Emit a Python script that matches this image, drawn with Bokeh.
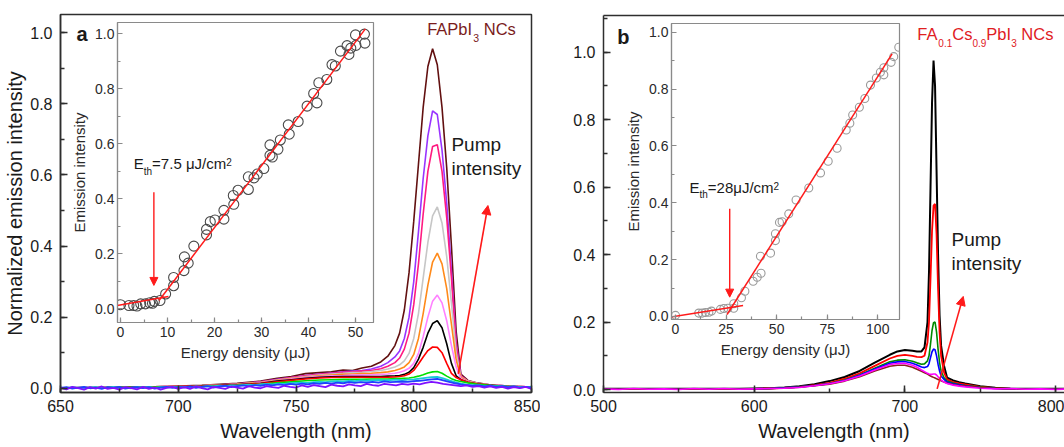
from bokeh.plotting import figure
from bokeh.models import (Range1d, SingleIntervalTicker, PrintfTickFormatter, Label, Arrow,
                          NormalHead, LinearAxis, FixedTicker, GridBox)
from bokeh.embed import file_html
from bokeh.resources import INLINE

FONT = "Liberation Sans"

# ---------------- Panel a: FAPbI3 spectra ----------------
WL_A_FINE = [650.0, 652.5, 655.0, 657.5, 660.0, 662.5, 665.0, 667.5, 670.0, 672.5, 675.0, 677.5,
             680.0, 682.5, 685.0, 687.5, 690.0, 692.5, 695.0, 697.5, 700.0, 702.5, 705.0, 707.5,
             710.0, 712.5, 715.0, 717.5, 720.0, 722.5, 725.0, 727.5, 730.0, 732.5, 735.0, 737.5,
             740.0, 742.5, 745.0, 747.5, 750.0, 752.5, 755.0, 757.5, 760.0, 762.5, 765.0, 767.5,
             770.0, 772.5, 775.0, 777.5, 780.0, 782.5, 785.0, 787.5, 790.0, 792.5, 795.0, 797.5,
             800.0, 802.5, 805.0, 807.5, 810.0, 812.5, 815.0, 817.5, 820.0, 822.5, 825.0, 827.5,
             830.0, 832.5, 835.0, 837.5, 840.0, 842.5, 845.0, 847.5, 850.0]

A_VIOLET_BASE = [0.002, -0.003, 0.004, 0.000, -0.004, 0.003, -0.001, 0.005, -0.002, 0.001, -0.004,
                 0.003, 0.000, -0.003, 0.004, -0.002, 0.002, -0.004, 0.001, 0.004, -0.002,
                 0.003, -0.002, 0.005, 0.000, -0.003, 0.004, 0.001, -0.002, 0.005, 0.002,
                 -0.001, 0.006, 0.002, 0.000, 0.006, 0.003, 0.001, 0.007, 0.004, 0.002,
                 0.008, 0.004, 0.009, 0.006, 0.003, 0.010, 0.007, 0.005, 0.011, 0.008,
                 0.006, 0.012, 0.009, 0.007, 0.012, 0.010, 0.008, 0.012, 0.010, 0.013,
                 0.011, 0.015, 0.018, 0.016, 0.012, 0.010, 0.008, 0.006, 0.008, 0.004,
                 0.006, 0.002, 0.005, 0.001, 0.004, -0.001, 0.003, 0.000, 0.004, -0.002]
A_BLUE_BASE = [0.001, 0.003, -0.001, 0.002, 0.004, 0.000, 0.002, -0.002, 0.003, 0.001, 0.004,
               -0.001, 0.002, 0.003, 0.000, 0.003, -0.001, 0.002, 0.004, 0.001, 0.003,
               0.002, 0.005, 0.001, 0.004, 0.006, 0.002, 0.005, 0.007, 0.003, 0.006,
               0.008, 0.005, 0.009, 0.007, 0.010, 0.008, 0.011, 0.009, 0.012, 0.010,
               0.013, 0.011, 0.014, 0.012, 0.015, 0.013, 0.016, 0.014, 0.017, 0.015,
               0.017, 0.016, 0.018, 0.016, 0.019, 0.017, 0.018, 0.019, 0.018, 0.020,
               0.021, 0.023, 0.025, 0.026, 0.022, 0.018, 0.014, 0.011, 0.009, 0.007,
               0.008, 0.005, 0.007, 0.004, 0.006, 0.003, 0.005, 0.002, 0.004, 0.002]
A_CYAN_BASE = [0.002, 0.000, 0.003, 0.001, -0.001, 0.002, 0.003, 0.000, 0.002, 0.004, 0.001,
               0.002, 0.000, 0.003, 0.002, 0.004, 0.001, 0.003, 0.002, 0.004, 0.002,
               0.004, 0.003, 0.005, 0.004, 0.006, 0.005, 0.007, 0.006, 0.008, 0.007,
               0.009, 0.010, 0.009, 0.011, 0.012, 0.011, 0.013, 0.012, 0.014, 0.015,
               0.016, 0.015, 0.017, 0.018, 0.017, 0.019, 0.020, 0.019, 0.021, 0.020,
               0.022, 0.021, 0.022, 0.023, 0.022, 0.023, 0.024, 0.023, 0.024, 0.025,
               0.027, 0.029, 0.031, 0.032, 0.028, 0.022, 0.017, 0.013, 0.010, 0.008,
               0.009, 0.006, 0.007, 0.005, 0.006, 0.004, 0.005, 0.003, 0.004, 0.003]

WL_A = [650, 670, 690, 710, 725, 735, 742, 748, 754, 760, 765, 770, 774, 778, 782, 786, 789, 792,
        794, 796, 798, 800, 802, 804, 806, 808, 810, 812, 814, 816, 818, 820, 823, 827, 832, 840, 850]

A_MAROON = [0.001, 0.002, 0.004, 0.008, 0.014, 0.020, 0.028, 0.033, 0.041, 0.044, 0.046, 0.051,
            0.050, 0.057, 0.062, 0.074, 0.090, 0.120, 0.155, 0.220, 0.325, 0.470, 0.630, 0.790,
            0.905, 0.955, 0.910, 0.790, 0.620, 0.400, 0.160, 0.040, 0.022, 0.015, 0.010, 0.006, 0.003]
A_PURPLE = [0.001, 0.002, 0.004, 0.007, 0.012, 0.018, 0.025, 0.030, 0.036, 0.040, 0.043, 0.046,
            0.048, 0.050, 0.054, 0.062, 0.072, 0.088, 0.105, 0.140, 0.200, 0.300, 0.440, 0.590,
            0.710, 0.780, 0.770, 0.670, 0.520, 0.330, 0.130, 0.035, 0.020, 0.014, 0.010, 0.006, 0.003]
A_PINK = [0.001, 0.002, 0.004, 0.007, 0.012, 0.018, 0.024, 0.030, 0.035, 0.039, 0.042, 0.045,
          0.046, 0.048, 0.050, 0.055, 0.062, 0.072, 0.085, 0.110, 0.155, 0.235, 0.350, 0.490,
          0.610, 0.680, 0.685, 0.610, 0.480, 0.310, 0.120, 0.035, 0.020, 0.014, 0.010, 0.006, 0.003]
A_GRAY = [0.001, 0.002, 0.004, 0.007, 0.011, 0.017, 0.023, 0.028, 0.033, 0.037, 0.040, 0.042,
          0.044, 0.045, 0.047, 0.050, 0.054, 0.060, 0.066, 0.077, 0.098, 0.140, 0.210, 0.310,
          0.410, 0.485, 0.510, 0.465, 0.370, 0.240, 0.100, 0.032, 0.020, 0.014, 0.010, 0.006, 0.003]
A_ORANGE = [0.001, 0.002, 0.004, 0.007, 0.011, 0.016, 0.022, 0.027, 0.031, 0.035, 0.037, 0.039,
            0.040, 0.041, 0.042, 0.044, 0.046, 0.050, 0.054, 0.060, 0.072, 0.095, 0.140, 0.210,
            0.290, 0.355, 0.380, 0.350, 0.280, 0.180, 0.080, 0.030, 0.019, 0.013, 0.009, 0.006, 0.003]
A_VIOLET = [0.001, 0.002, 0.004, 0.006, 0.010, 0.015, 0.021, 0.026, 0.030, 0.033, 0.035, 0.036,
            0.037, 0.037, 0.038, 0.039, 0.040, 0.042, 0.045, 0.049, 0.056, 0.070, 0.098, 0.145,
            0.200, 0.245, 0.262, 0.240, 0.190, 0.120, 0.060, 0.027, 0.018, 0.012, 0.009, 0.006, 0.003]
A_BLACK = [0.001, 0.002, 0.003, 0.006, 0.010, 0.014, 0.020, 0.024, 0.028, 0.031, 0.032, 0.033,
           0.033, 0.033, 0.033, 0.033, 0.034, 0.035, 0.036, 0.039, 0.045, 0.058, 0.082, 0.115,
           0.155, 0.182, 0.190, 0.170, 0.125, 0.070, 0.035, 0.024, 0.017, 0.012, 0.009, 0.005, 0.003]
A_RED = [0.001, 0.002, 0.003, 0.006, 0.009, 0.013, 0.018, 0.022, 0.026, 0.029, 0.030, 0.031,
         0.031, 0.031, 0.031, 0.031, 0.031, 0.032, 0.033, 0.035, 0.040, 0.050, 0.068, 0.088,
         0.106, 0.116, 0.115, 0.100, 0.070, 0.042, 0.030, 0.024, 0.017, 0.012, 0.008, 0.005, 0.003]
A_GREEN = [0.001, 0.002, 0.003, 0.005, 0.008, 0.011, 0.015, 0.018, 0.021, 0.023, 0.024, 0.025,
           0.025, 0.025, 0.026, 0.026, 0.026, 0.027, 0.027, 0.028, 0.029, 0.031, 0.034, 0.038,
           0.043, 0.046, 0.047, 0.042, 0.034, 0.027, 0.022, 0.019, 0.015, 0.011, 0.008, 0.005, 0.003]

# inset a: emission vs energy density
INSET_A_X = [0.0, 1.8, 2.8, 4.3, 5.3, 6.2, 7.2, 8.4, 9.6, 11.3, 11.3, 13.5, 13.6, 14.4, 15.6, 18.3,
             18.3, 19.1, 20.1, 22.0, 22.0, 24.1, 24.0, 25.0, 27.2, 27.2, 28.4, 29.1, 30.5, 31.8,
             31.8, 32.3, 33.5, 34.0, 35.9, 35.7, 37.8, 39.7, 41.1, 41.8, 42.2, 43.9, 45.0, 45.7,
             46.8, 48.6, 49.0, 50.1, 50.0, 51.9, 52.0, 48.2, 3.5, 6.8]
INSET_A_Y = [0.015, 0.012, 0.012, 0.018, 0.018, 0.022, 0.027, 0.030, 0.054, 0.084, 0.114, 0.139,
             0.189, 0.166, 0.228, 0.269, 0.289, 0.317, 0.323, 0.326, 0.358, 0.380, 0.412, 0.431,
             0.434, 0.480, 0.476, 0.490, 0.510, 0.558, 0.596, 0.552, 0.580, 0.614, 0.635, 0.669,
             0.681, 0.737, 0.783, 0.749, 0.822, 0.834, 0.888, 0.883, 0.937, 0.925, 0.948, 0.958,
             0.996, 0.999, 0.966, 0.957, 0.010, 0.020]
FIT_A_LOW_X = [-0.7, 10.2]
FIT_A_LOW_Y = [0.012, 0.045]
FIT_A_HIGH_X = [8.2, 52.1]
FIT_A_HIGH_Y = [0.030, 1.018]

# ---------------- Panel b: FA0.1Cs0.9PbI3 spectra ----------------
WL_B = [500, 510, 520, 530, 540, 550, 560, 570, 580, 590, 600, 610, 620, 630, 640, 650, 660, 670,
        680, 690, 695, 700, 705, 708, 711, 713, 715, 716, 717, 718, 719, 720, 721, 722, 723, 724,
        726, 728, 732, 736, 740, 750, 760, 770, 780, 790, 800, 810]
B_BLACK = [0.002, 0.002, 0.002, 0.002, 0.002, 0.002, 0.002, 0.002, 0.002, 0.002, 0.003, 0.004,
           0.006, 0.010, 0.016, 0.025, 0.037, 0.055, 0.080, 0.103, 0.113, 0.117, 0.115, 0.113,
           0.113, 0.125, 0.200, 0.350, 0.600, 0.850, 0.975, 0.900, 0.650, 0.400, 0.220, 0.130,
           0.070, 0.035, 0.027, 0.022, 0.018, 0.010, 0.005, 0.003, 0.002, 0.002, 0.002, 0.002]
B_RED = [0.001, 0.001, 0.001, 0.001, 0.001, 0.001, 0.001, 0.001, 0.001, 0.001, 0.002, 0.003,
         0.005, 0.008, 0.013, 0.020, 0.032, 0.048, 0.070, 0.092, 0.100, 0.103, 0.100, 0.097,
         0.096, 0.100, 0.140, 0.200, 0.330, 0.470, 0.545, 0.550, 0.460, 0.300, 0.170, 0.100,
         0.050, 0.030, 0.022, 0.018, 0.015, 0.008, 0.004, 0.002, 0.001, 0.001, 0.001, 0.001]
B_GREEN = [0.001, 0.001, 0.001, 0.001, 0.001, 0.001, 0.001, 0.001, 0.001, 0.001, 0.002, 0.003,
           0.005, 0.008, 0.012, 0.018, 0.028, 0.043, 0.063, 0.082, 0.087, 0.088, 0.084, 0.079,
           0.075, 0.076, 0.085, 0.100, 0.135, 0.175, 0.198, 0.200, 0.170, 0.120, 0.080, 0.055,
           0.035, 0.025, 0.019, 0.015, 0.012, 0.007, 0.004, 0.002, 0.001, 0.001, 0.001, 0.001]
B_BLUE = [0.001, 0.001, 0.001, 0.001, 0.001, 0.001, 0.001, 0.001, 0.001, 0.001, 0.002, 0.003,
          0.005, 0.008, 0.012, 0.017, 0.027, 0.042, 0.061, 0.078, 0.082, 0.083, 0.078, 0.073,
          0.067, 0.065, 0.068, 0.077, 0.095, 0.112, 0.120, 0.118, 0.100, 0.075, 0.055, 0.040,
          0.030, 0.022, 0.017, 0.014, 0.011, 0.006, 0.003, 0.002, 0.001, 0.001, 0.001, 0.001]
B_BROWN = [0.001, 0.001, 0.001, 0.001, 0.001, 0.001, 0.001, 0.001, 0.001, 0.001, 0.002, 0.003,
           0.004, 0.007, 0.011, 0.016, 0.025, 0.038, 0.055, 0.069, 0.072, 0.072, 0.066, 0.060,
           0.054, 0.050, 0.046, 0.043, 0.040, 0.038, 0.036, 0.034, 0.032, 0.030, 0.028, 0.026,
           0.022, 0.019, 0.015, 0.012, 0.010, 0.006, 0.003, 0.002, 0.001, 0.001, 0.001, 0.001]
B_MAGENTA = [0.002, 0.000, 0.003, 0.001, 0.002, 0.000, 0.003, 0.001, 0.003, 0.001, 0.002, 0.003,
             0.004, 0.006, 0.011, 0.017, 0.026, 0.040, 0.058, 0.074, 0.077, 0.078, 0.072, 0.066,
             0.058, 0.053, 0.048, 0.046, 0.045, 0.045, 0.046, 0.046, 0.043, 0.038, 0.033, 0.028,
             0.022, 0.018, 0.013, 0.010, 0.008, 0.004, 0.002, 0.003, 0.001, 0.002, 0.000, 0.002]

INSET_B_X = [0.0, 11.5, 13.2, 14.8, 16.5, 17.8, 22.2, 23.9, 25.9, 28.8, 28.8, 32.6, 34.3, 38.4,
             40.4, 42.3, 42.0, 47.0, 49.4, 49.4, 51.4, 52.7, 56.0, 59.6, 65.9, 71.7, 75.5, 79.9,
             84.4, 86.2, 87.6, 90.9, 93.6, 96.4, 99.3, 101.3, 103.0, 103.0, 106.6, 107.9, 110.4]
INSET_B_Y = [0.004, 0.012, 0.012, 0.014, 0.015, 0.019, 0.025, 0.028, 0.029, 0.029, 0.045, 0.066,
             0.089, 0.124, 0.138, 0.152, 0.212, 0.223, 0.267, 0.291, 0.331, 0.333, 0.361, 0.410,
             0.452, 0.505, 0.546, 0.592, 0.656, 0.680, 0.709, 0.736, 0.767, 0.814, 0.839, 0.859,
             0.875, 0.850, 0.894, 0.914, 0.947]
FIT_B_LOW_X = [-2.5, 33.4]
FIT_B_LOW_Y = [-0.002, 0.039]
FIT_B_HIGH_X = [25.5, 107.1]
FIT_B_HIGH_Y = [0.007, 0.924]

AXIS_DARK = "#2e2e2e"
AXIS_GRAY = "#8a8a8a"


def style_axis(ax, font_size, text_color, line_color, width, tick_in, minor_in):
    ax.major_tick_in = tick_in
    ax.major_tick_out = 0
    ax.minor_tick_in = minor_in
    ax.minor_tick_out = 0
    ax.axis_line_color = line_color
    ax.axis_line_width = width
    ax.major_tick_line_color = line_color
    ax.minor_tick_line_color = line_color
    ax.major_tick_line_width = width
    ax.minor_tick_line_width = width
    ax.major_label_text_font = FONT
    ax.major_label_text_font_size = f"{font_size}px"
    ax.major_label_text_color = text_color
    ax.axis_label_text_font = FONT
    ax.axis_label_text_font_style = "normal"
    ax.axis_label_text_color = text_color


def make_fig(**kw):
    p = figure(output_backend="svg", toolbar_location=None, frame_align=False, **kw)
    p.xgrid.visible = False
    p.ygrid.visible = False
    p.background_fill_color = None
    p.border_fill_color = None
    return p


def add_label(p, x, y, text, size, color, **kw):
    p.add_layout(Label(x=x, y=y, text=text, text_font=FONT, text_font_size=f"{size}px",
                       text_color=color, **kw))


# ---------------- main figure a ----------------
fa = make_fig(width=540, height=447, x_range=Range1d(650, 850), y_range=Range1d(-0.012, 1.0513),
              min_border_left=60, min_border_right=9, min_border_top=14, min_border_bottom=55)
fa.border_fill_color = "white"
fa.background_fill_color = "white"
fa.outline_line_color = AXIS_DARK
fa.outline_line_width = 1.5
fa.xaxis.ticker = SingleIntervalTicker(interval=50, num_minor_ticks=2)
fa.yaxis.ticker = SingleIntervalTicker(interval=0.2, num_minor_ticks=2)
fa.yaxis.formatter = PrintfTickFormatter(format="%.1f")
for ax in (fa.xaxis[0], fa.yaxis[0]):
    style_axis(ax, 16, "#1a1a1a", AXIS_DARK, 1.5, 7, 4)
fa.xaxis.axis_label = "Wavelength (nm)"
fa.yaxis.axis_label = "Normalized emission intensity"
fa.xaxis.axis_label_text_font_size = "20px"
fa.yaxis.axis_label_text_font_size = "20px"
fa.xaxis.major_label_standoff = 7
fa.xaxis.axis_label_standoff = 5
fa.yaxis.major_label_standoff = 8
fa.yaxis.axis_label_standoff = 1

for ys, col in [(A_MAROON, "#621010"), (A_PURPLE, "#9933ff"), (A_PINK, "#ff1a80"),
                (A_GRAY, "#c6c6c6"), (A_ORANGE, "#ff8a1a"), (A_VIOLET, "#ff80ff"),
                (A_BLACK, "#000000"), (A_RED, "#ff0000"), (A_GREEN, "#00e000")]:
    fa.line(WL_A, ys, line_color=col, line_width=1.6)
for ys, col in [(A_CYAN_BASE, "#19c8d8"), (A_BLUE_BASE, "#2040ff"), (A_VIOLET_BASE, "#7f10ff")]:
    fa.line(WL_A_FINE, ys, line_color=col, line_width=1.8)

add_label(fa, 659.2, 0.997, "a", 20, "#1a1a1a", text_font_style="bold",
          text_align="center", text_baseline="middle")
TA = "#7a1c1c"
add_label(fa, 805.7, 0.984, "FAPbI", 16.5, TA)
add_label(fa, 805.7, 0.973, "3", 10.5, TA, x_offset=46.0)
add_label(fa, 805.7, 0.984, "NCs", 16.5, TA, x_offset=56.6)
add_label(fa, 816.0, 0.655, "Pump", 19, "#1a1a1a")
add_label(fa, 816.0, 0.588, "intensity", 19, "#1a1a1a")
fa.add_layout(Arrow(end=NormalHead(size=9, fill_color="#ff1a1a", line_color="#ff1a1a"),
                    x_start=818.9, y_start=0.0405, x_end=831.5, y_end=0.514,
                    line_color="#ff1a1a", line_width=1.6))

# ---------------- inset a ----------------
ia = make_fig(width=378, height=367, x_range=Range1d(-0.64, 53.83), y_range=Range1d(-0.0498, 1.0411),
              min_border_left=117, min_border_right=5, min_border_top=22, min_border_bottom=45)
ia.outline_line_color = AXIS_GRAY
ia.outline_line_width = 1.2
ia.xaxis.ticker = SingleIntervalTicker(interval=10, num_minor_ticks=2)
ia.yaxis.ticker = SingleIntervalTicker(interval=0.2, num_minor_ticks=2)
ia.yaxis.formatter = PrintfTickFormatter(format="%.1f")
for ax in (ia.xaxis[0], ia.yaxis[0]):
    style_axis(ax, 14, "#2a2a2a", AXIS_GRAY, 1.2, 5, 3)
ia.xaxis.axis_label = "Energy density (μJ)"
ia.yaxis.axis_label = "Emission intensity"
ia.xaxis.axis_label_text_font_size = "15px"
ia.yaxis.axis_label_text_font_size = "15px"
ia.xaxis.major_label_standoff = 4
ia.xaxis.axis_label_standoff = 4
ia.yaxis.major_label_standoff = 3
ia.yaxis.axis_label_standoff = 4
ia.scatter(INSET_A_X, INSET_A_Y, size=10, marker="circle", fill_color=None,
           line_color="#4a4a4a", line_width=1.1)
ia.line(FIT_A_LOW_X, FIT_A_LOW_Y, line_color="#ff1a1a", line_width=1.5)
ia.line(FIT_A_HIGH_X, FIT_A_HIGH_Y, line_color="#ff1a1a", line_width=1.5)
add_label(ia, 2.83, 0.496, "E", 15, "#1a1a1a")
add_label(ia, 2.83, 0.481, "th", 10, "#1a1a1a", x_offset=10)
add_label(ia, 2.83, 0.496, "=7.5 μJ/cm", 15, "#1a1a1a", x_offset=18.3)
add_label(ia, 2.83, 0.518, "2", 10, "#1a1a1a", x_offset=92.4)
ia.add_layout(Arrow(end=NormalHead(size=8, fill_color="#ff1a1a", line_color="#ff1a1a"),
                    x_start=7.1, y_start=0.424, x_end=7.1, y_end=0.085,
                    line_color="#ff1a1a", line_width=1.4))

# ---------------- main figure b ----------------
fb = make_fig(width=524, height=447, x_range=Range1d(500, 805.9), y_range=Range1d(-0.0088, 1.1084),
              min_border_left=63, min_border_right=0, min_border_top=15, min_border_bottom=55)
fb.border_fill_color = "white"
fb.background_fill_color = "white"
fb.outline_line_color = None
fb.xaxis.ticker = SingleIntervalTicker(interval=100, num_minor_ticks=2)
fb.yaxis.ticker = SingleIntervalTicker(interval=0.2, num_minor_ticks=2)
fb.yaxis.formatter = PrintfTickFormatter(format="%.1f")
for ax in (fb.xaxis[0], fb.yaxis[0]):
    style_axis(ax, 16, "#1a1a1a", AXIS_DARK, 1.5, 7, 4)
fb.xaxis.axis_label = "Wavelength (nm)"
fb.xaxis.axis_label_text_font_size = "20px"
fb.xaxis.major_label_standoff = 7
fb.xaxis.axis_label_standoff = 5
fb.yaxis.major_label_standoff = 8
top_axis = LinearAxis(ticker=FixedTicker(ticks=[]), major_label_text_font_size="0px",
                      axis_line_color=AXIS_DARK, axis_line_width=1.5,
                      major_tick_line_color=None, minor_tick_line_color=None)
fb.add_layout(top_axis, "above")

for ys, col, w in [(B_BLACK, "#000000", 2.0), (B_RED, "#ff0000", 1.8), (B_GREEN, "#008a00", 1.6),
                   (B_BLUE, "#0000ff", 1.6), (B_BROWN, "#8b1f1f", 1.6), (B_MAGENTA, "#ff00ff", 1.6)]:
    fb.line(WL_B, ys, line_color=col, line_width=w)

add_label(fb, 513.1, 1.045, "b", 20, "#1a1a1a", text_font_style="bold",
          text_align="center", text_baseline="middle")
TB = "#e0201f"
add_label(fb, 708.2, 1.027, "FA", 16.5, TB)
add_label(fb, 708.2, 1.015, "0.1", 10, TB, x_offset=21.1)
add_label(fb, 708.2, 1.027, "Cs", 16.5, TB, x_offset=35.0)
add_label(fb, 708.2, 1.015, "0.9", 10, TB, x_offset=55.2)
add_label(fb, 708.2, 1.027, "PbI", 16.5, TB, x_offset=69.1)
add_label(fb, 708.2, 1.015, "3", 10, TB, x_offset=93.9)
add_label(fb, 708.2, 1.027, "NCs", 16.5, TB, x_offset=104.1)
add_label(fb, 730.9, 0.4134, "Pump", 19, "#1a1a1a")
add_label(fb, 730.9, 0.343, "intensity", 19, "#1a1a1a")
fb.add_layout(Arrow(end=NormalHead(size=9, fill_color="#ff1a1a", line_color="#ff1a1a"),
                    x_start=721.4, y_start=0.002, x_end=738.7, y_end=0.276,
                    line_color="#ff1a1a", line_width=1.6))

# ---------------- inset b ----------------
ib = make_fig(width=364, height=364, x_range=Range1d(-1.98, 110.75), y_range=Range1d(-0.0106, 1.0306),
              min_border_left=131, min_border_right=5, min_border_top=23, min_border_bottom=45)
ib.outline_line_color = AXIS_GRAY
ib.outline_line_width = 1.2
ib.xaxis.ticker = SingleIntervalTicker(interval=25, num_minor_ticks=2)
ib.yaxis.ticker = SingleIntervalTicker(interval=0.2, num_minor_ticks=2)
ib.yaxis.formatter = PrintfTickFormatter(format="%.1f")
for ax in (ib.xaxis[0], ib.yaxis[0]):
    style_axis(ax, 14, "#2a2a2a", AXIS_GRAY, 1.2, 5, 3)
ib.xaxis.axis_label = "Energy density (μJ)"
ib.yaxis.axis_label = "Emission intensity"
ib.xaxis.axis_label_text_font_size = "15px"
ib.yaxis.axis_label_text_font_size = "15px"
ib.xaxis.major_label_standoff = 4
ib.xaxis.axis_label_standoff = 4
ib.yaxis.major_label_standoff = 3
ib.yaxis.axis_label_standoff = 4
ib.scatter(INSET_B_X, INSET_B_Y, size=8, marker="circle", fill_color=None,
           line_color="#9a9a9a", line_width=1.1)
ib.line(FIT_B_LOW_X, FIT_B_LOW_Y, line_color="#ff1a1a", line_width=1.5)
ib.line(FIT_B_HIGH_X, FIT_B_HIGH_Y, line_color="#ff1a1a", line_width=1.5)
add_label(ib, 6.92, 0.424, "E", 15, "#1a1a1a")
add_label(ib, 6.92, 0.410, "th", 10, "#1a1a1a", x_offset=10)
add_label(ib, 6.92, 0.424, "=28μJ/cm", 15, "#1a1a1a", x_offset=18.3)
add_label(ib, 6.92, 0.445, "2", 10, "#1a1a1a", x_offset=84)
ib.add_layout(Arrow(end=NormalHead(size=8, fill_color="#ff1a1a", line_color="#ff1a1a"),
                    x_start=26.8, y_start=0.379, x_end=26.8, y_end=0.068,
                    line_color="#ff1a1a", line_width=1.4))

grid = GridBox(children=[(fa, 0, 0), (ia, 0, 0), (fb, 0, 1), (ib, 0, 1)], spacing=0)

open("out.html", "w").write(file_html(grid, INLINE))
